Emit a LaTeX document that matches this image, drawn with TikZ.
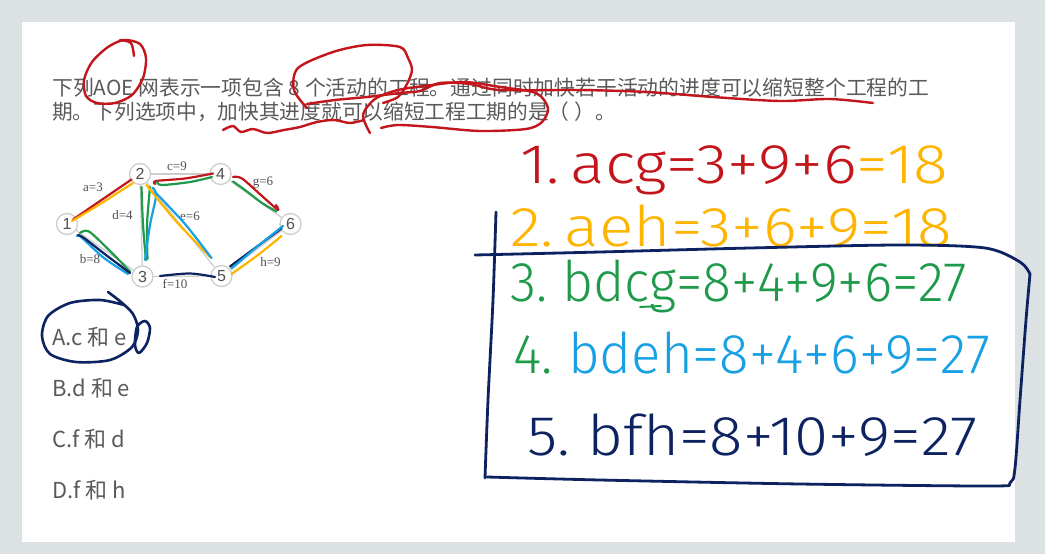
\documentclass[tikz,border=0pt]{standalone}
\usepackage{fontspec}
\usepackage{graphicx}
\setmainfont{Liberation Serif}
\newfontfamily\cjk{Noto Sans CJK SC}
\newfontfamily\hand{Fira Sans}[UprightFont=* Light]
\newfontfamily\numfont{Liberation Sans}
\usetikzlibrary{positioning}

\definecolor{bgray}{HTML}{DCE2E4}
\definecolor{qgray}{HTML}{5A5A5A}
\definecolor{vline}{HTML}{CDCDCD}
\definecolor{vtext}{HTML}{505050}
\definecolor{hred}{HTML}{C3161C}
\definecolor{horange}{HTML}{FFB400}
\definecolor{hgreen}{HTML}{1E9A4A}
\definecolor{hblue}{HTML}{18A0E4}
\definecolor{hnavy}{HTML}{0D2260}

\begin{document}
\begin{tikzpicture}[x=1pt,y=-1pt,
    vtx/.style={circle, draw=vline, line width=1.3pt, fill=white, minimum size=21pt,
        inner sep=0pt, text=vtext, font=\numfont\fontsize{16}{16}\selectfont},
    edge/.style={draw=vline, line width=1.2pt},
    lbl/.style={text=vtext, inner sep=0pt, font=\fontsize{13}{13}\selectfont},
    qtext/.style={text=qgray, inner sep=0pt, anchor=base west, font=\cjk\fontsize{20.7}{24}\selectfont},
    opt/.style={text=qgray, inner sep=0pt, anchor=base west, font=\cjk\fontsize{22}{24}\selectfont},
    hw/.style={inner sep=0pt, anchor=base west, font=\hand\fontsize{56}{56}\selectfont},
    pen/.style={line width=#1, line cap=round, line join=round},
    pen/.default=2.4pt]
\useasboundingbox (0,0) rectangle (1045,554);
\fill [bgray] (0,0) rectangle (1045,554);
\fill [white] (22,22) rectangle (1015,542);

% question
\node [qtext] (q1) at (52,95.5) {\resizebox{877pt}{\height}{下列AOE 网表示一项包含 8 个活动的工程。通过同时加快若干活动的进度可以缩短整个工程的工}};
\node [qtext] (q2) at (52,119.5) {期。下列选项中，加快其进度就可以缩短工程工期的是（ ）。};

% options
\node [opt] (oa) at (52,345) {A.c 和 e};
\node [opt] (ob) at (52,396) {B.d 和 e};
\node [opt] (oc) at (52,447) {C.f 和 d};
\node [opt] (od) at (52,498) {D.f 和 h};

% AOE net
\node [vtx] (v1) at (67,224) {1};
\node [vtx] (v2) at (140,174) {2};
\node [vtx] (v3) at (142.5,276.5) {3};
\node [vtx] (v4) at (220.5,174) {4};
\node [vtx] (v5) at (221.5,276) {5};
\node [vtx] (v6) at (290.5,224) {6};

\draw [edge] (v1) -- (v2);
\draw [edge] (v1) -- (v3);
\draw [edge] (v2) -- (v4);
\draw [edge] (v2) -- (v3);
\draw [edge] (v2) -- (v5);
\draw [edge] (v4) -- (v6);
\draw [edge] (v3) -- (v5);
\draw [edge] (v5) -- (v6);

\node [lbl] (la) at (93,187) {a=3};
\node [lbl] (lb) at (90,259) {b=8};
\node [lbl] (lc) at (177,166) {c=9};
\node [lbl] (ld) at (122.5,215) {d=4};
\node [lbl] (le) at (190,216) {e=6};
\node [lbl] (lf) at (175,283.5) {f=10};
\node [lbl] (lg) at (263,183) {g=6};
\node [lbl] (lh) at (270.5,262.5) {h=9};

% pen marks on the net
\draw [pen=2.2pt, hred] plot [smooth] coordinates {(73,219.5) (100,201) (131.5,179.5)};
\draw [pen=2.2pt, horange] plot [smooth] coordinates {(72,221) (101,203.5) (133,183)};
\draw [pen=2.2pt, hgreen] plot [smooth] coordinates {(80,233) (89,231.5) (110,251) (130,271.5)};
\draw [pen=2.2pt, hblue] plot [smooth] coordinates {(77,236) (81,237) (104,258) (128,274)};
\draw [pen=2.2pt, hnavy] plot [smooth] coordinates {(78,235) (84,238) (106,255) (130,273)};
\draw [pen=2.2pt, hgreen] plot [smooth] coordinates {(141.5,187) (143,225) (146,260)};
\draw [pen=2.2pt, hgreen] plot [smooth] coordinates {(150,187) (147,225) (147.5,259)};
\draw [pen=2.2pt, hblue] plot [smooth] coordinates {(153,188) (156,196) (150,225) (145,260)};
\draw [pen=2.2pt, hred] plot [smooth] coordinates {(155,184) (156,181) (185,178.5) (213,173.5)};
\draw [pen=2.2pt, hgreen] plot [smooth] coordinates {(157,182) (162,185) (190,182) (212,177)};
\draw [pen=2.2pt, horange] plot [smooth] coordinates {(146.5,185) (175,220) (210,257)};
\draw [pen=2.2pt, hblue] plot [smooth] coordinates {(155,192) (185,224) (211.5,258)};
\draw [pen=2.2pt, hred] plot [smooth] coordinates {(233,177) (242,178.5) (262,196) (278,210) (276,205)};
\draw [pen=2.2pt, hgreen] plot [smooth] coordinates {(233,181.5) (245,190) (262,203) (276.5,211.5)};
\draw [pen=2.2pt, hnavy] plot [smooth] coordinates {(160,276) (190,273.5) (215,277)};
\draw [pen=2.2pt, hnavy] plot [smooth] coordinates {(230,266.5) (255,248) (281.5,228.5)};
\draw [pen=2.2pt, hblue] plot [smooth] coordinates {(231.5,268.5) (258,246) (283,226)};
\draw [pen=2.2pt, horange] plot [smooth] coordinates {(231.5,274) (258,255) (281.5,236)};

% red marks on the question
\draw [pen, hred] plot [smooth cycle] coordinates {(86,96) (84,80) (92,62) (108,47) (124,40) (140,44) (146,58) (143,78) (132,95) (115,103) (97,103)};
\draw [pen, hred] plot [smooth] coordinates {(120,40) (131,43) (134,56)};
\draw [pen, hred] plot [smooth] coordinates {(307,108) (294,90) (298,68) (333,52) (367,45) (400,47) (408,58) (412,70) (407,84) (398,97) (383,103)};
\draw [pen, hred] plot [smooth] coordinates {(307,104) (335,100) (367,97) (400,93) (420,91) (440,83) (470,84) (500,90) (580,90) (647,92) (713,97) (780,101) (830,99) (873,103)};
\draw [pen, hred] plot [smooth] coordinates {(370,133) (363,115) (375,99) (398,90) (432,85) (465,82) (500,87) (536,93) (548,108) (542,122) (526,129) (480,131) (432,127) (398,125) (381,128)};
\draw [pen, hred] plot [smooth] coordinates {(223,130) (233,126) (241,132) (253,129) (267,133) (284,130) (300,127) (317,122) (334,120) (350,123) (364,120)};

% navy mark round option A
\draw [pen=2.6pt, hnavy] plot [smooth] coordinates {(108,292) (121,302) (133,314) (138,330) (132,347) (110,360) (76,362) (50,354) (42,336) (48,316) (70,303) (100,300) (124,305)};
\draw [pen=2.6pt, hnavy] plot [smooth cycle] coordinates {(137,327) (145,321) (150,328) (147,343) (139,353) (135,345)};

% worked paths
\node [hw] (p1) at (520,183) {\resizebox{428pt}{\height}{\color{hred}1.\,acg=3+9+6\color{horange}=18}};
\node [hw] (p2) at (510,246) {\resizebox{442pt}{\height}{\color{horange}2.\,aeh=3+6+9=18}};
\node [hw] (p3) at (510,301) {\resizebox{457pt}{\height}{\color{hgreen}3.\ bdcg=8+4+9+6=27}};
\node [hw] (p4) at (513,373) {\resizebox{477pt}{\height}{\color{hgreen}4.\ \color{hblue}bdeh=8+4+6+9=27}};
\node [hw] (p5) at (527,455) {\resizebox{450pt}{\height}{\color{hnavy}5.\ bfh=8+10+9=27}};
\draw [pen=2pt, hgreen] (640,307) -- (661,306);

% navy box round paths 3 to 5
\draw [pen=2.8pt, hnavy] plot [smooth] coordinates {(496,212) (493,300) (488,400) (485,478)};
\draw [pen=2.8pt, hnavy] plot [smooth] coordinates {(475,255) (600,252) (750,248) (900,245) (985,248) (1020,262) (1030,274)};
\draw [pen=2.8pt, hnavy] plot [smooth] coordinates {(1030,274) (1026,320) (1020,400) (1015,468) (1010,483) (990,486) (800,484) (600,480) (487,477)};
\end{tikzpicture}
\end{document}
